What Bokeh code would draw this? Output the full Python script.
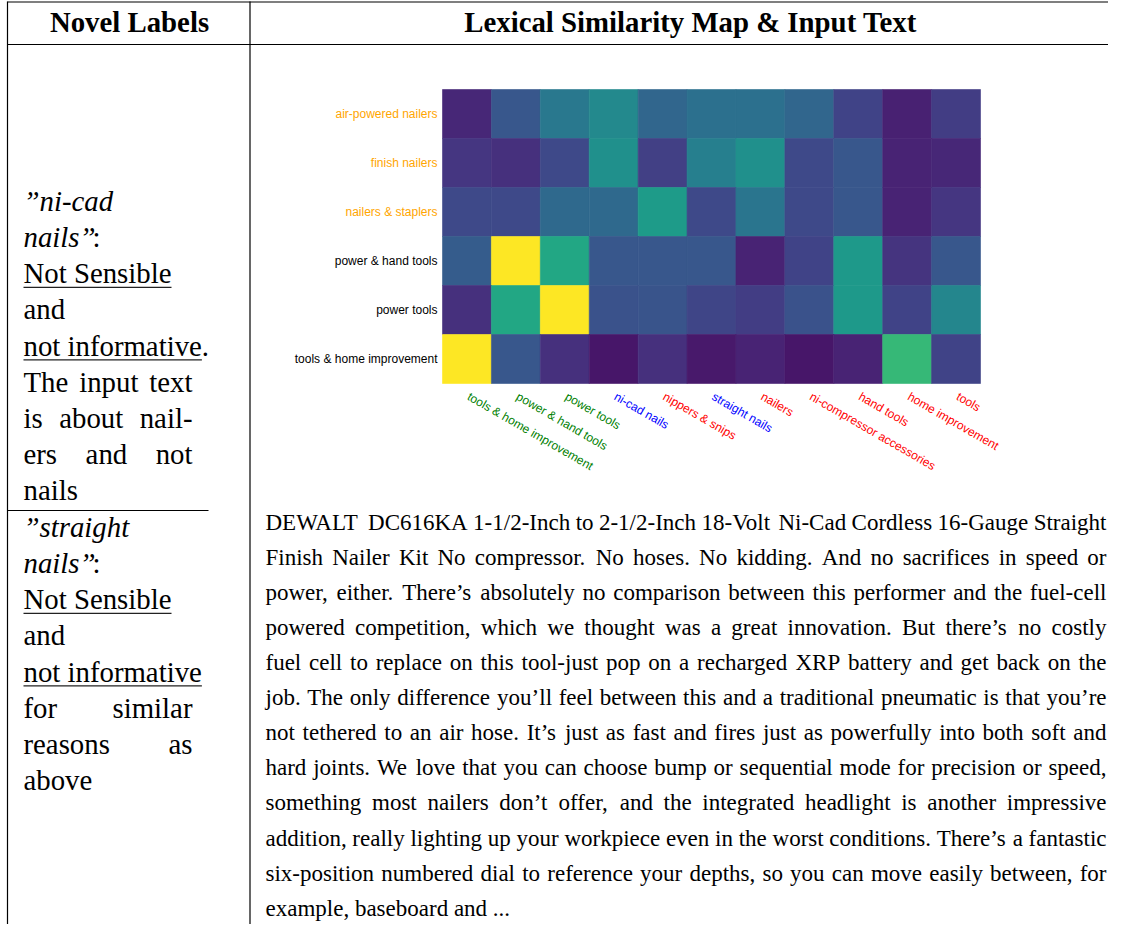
import math
from bokeh.plotting import figure
from bokeh.models import Range1d, ColumnDataSource, LabelSet, LinearColorMapper
from bokeh.palettes import Viridis256
from bokeh.core.properties import value, field
from bokeh.embed import file_html
from bokeh.resources import INLINE

# ---------------- data ----------------
row_labels = ["air-powered nailers", "finish nailers", "nailers & staplers",
              "power & hand tools", "power tools", "tools & home improvement"]
row_label_colors = ["#FFA500", "#FFA500", "#FFA500", "black", "black", "black"]

col_labels = ["tools & home improvement", "power & hand tools", "power tools",
              "ni-cad nails", "nippers & snips", "straight nails", "nailers",
              "ni-compressor accessories", "hand tools", "home improvement", "tools"]
col_label_colors = ["green", "green", "green", "blue", "red", "blue", "red",
                    "red", "red", "red", "red"]

sim_air_powered_nailers = [0.11, 0.27, 0.40, 0.47, 0.33, 0.37, 0.37, 0.33, 0.20, 0.09, 0.18]
sim_finish_nailers      = [0.16, 0.14, 0.22, 0.50, 0.19, 0.43, 0.50, 0.22, 0.27, 0.10, 0.11]
sim_nailers_staplers    = [0.22, 0.22, 0.34, 0.34, 0.55, 0.22, 0.39, 0.22, 0.27, 0.10, 0.16]
sim_power_hand_tools    = [0.29, 1.00, 0.60, 0.27, 0.27, 0.27, 0.10, 0.20, 0.54, 0.15, 0.27]
sim_power_tools         = [0.14, 0.60, 1.00, 0.25, 0.26, 0.21, 0.18, 0.25, 0.54, 0.20, 0.46]
sim_tools_home_impr     = [1.00, 0.27, 0.14, 0.06, 0.14, 0.07, 0.10, 0.06, 0.10, 0.67, 0.20]

header_left = "Novel Labels"
header_right = "Lexical Similarity Map & Input Text"

input_text_lines = [
    "DEWALT DC616KA 1-1/2-Inch to 2-1/2-Inch 18-Volt Ni-Cad Cordless 16-Gauge Straight",
    "Finish Nailer Kit No compressor. No hoses. No kidding. And no sacrifices in speed or",
    "power, either. There’s absolutely no comparison between this performer and the fuel-cell",
    "powered competition, which we thought was a great innovation.  But there’s no costly",
    "fuel cell to replace on this tool-just pop on a recharged XRP battery and get back on the",
    "job. The only difference you’ll feel between this and a traditional pneumatic is that you’re",
    "not tethered to an air hose. It’s just as fast and fires just as powerfully into both soft and",
    "hard joints. We love that you can choose bump or sequential mode for precision or speed,",
    "something most nailers don’t offer, and the integrated headlight is another impressive",
    "addition, really lighting up your workpiece even in the worst conditions. There’s a fantastic",
    "six-position numbered dial to reference your depths, so you can move easily between, for",
    "example, baseboard and ...",
]

SERIF = "Liberation Serif"
SANS = "Liberation Sans"

# Times-compatible advance widths (1/1000 em) used for justified lines
W_ROMAN = {' ': 250, '!': 333, '(': 333, ')': 333, ',': 250, '-': 333, '.': 250,
           '/': 278, ':': 278, ';': 278, '?': 444, '&': 778, '’': 333, '”': 444}
for ch in "0123456789":
    W_ROMAN[ch] = 500
W_ROMAN.update(dict(zip("ABCDEFGHIJKLMNOPQRSTUVWXYZ",
    [722, 667, 667, 722, 611, 556, 722, 722, 333, 389, 722, 611, 889, 722, 722,
     556, 722, 667, 556, 611, 722, 722, 944, 722, 722, 611])))
W_ROMAN.update(dict(zip("abcdefghijklmnopqrstuvwxyz",
    [444, 500, 444, 500, 444, 333, 500, 500, 278, 278, 500, 278, 778, 500, 500,
     500, 500, 333, 389, 278, 500, 500, 722, 500, 500, 444])))
W_ITALIC = {'n': 500, 'a': 500, 'i': 278, 'l': 278, 's': 389, '”': 556}


def text_width(s, fs, table=W_ROMAN):
    return sum(table.get(c, 500) for c in s) * fs / 1000.0


def justify(line, x0, x1, fs):
    words = line.split()
    if len(words) == 1:
        return [x0], words
    widths = [text_width(w, fs) for w in words]
    gap = (x1 - x0 - sum(widths)) / (len(words) - 1)
    xs, x = [], x0
    for w in widths:
        xs.append(x)
        x += w + gap
    return xs, words


# ---------------- figure (pixel-like coordinates, y downwards) ----------------
W, H = 1108, 924
p = figure(width=W, height=H, x_range=Range1d(0, W), y_range=Range1d(H, 0),
           output_backend="svg", toolbar_location=None,
           x_axis_location=None, y_axis_location=None, min_border=0)
p.outline_line_color = None
p.background_fill_color = "white"
p.border_fill_color = "white"
p.grid.visible = False


def put_text(xs, ys_base, texts, fs, style="normal", align="left", color="black"):
    # convert baseline positions to em-box middle
    ys = [y - 0.34 * fs for y in ys_base]
    p.text(x=xs, y=ys, text=texts, text_font=value(SERIF), text_font_size=f"{fs}px",
           text_font_style=style, text_align=align, text_baseline="middle",
           text_color=color)


LINE_COLOR = "black"
FS_LEFT = 28.8
FS_PARA = 23

# table rules
p.segment(x0=[7, 7, 7], y0=[1.5, 44, 510], x1=[W, W, 208], y1=[1.5, 44, 510],
          line_color=LINE_COLOR, line_width=1.2)
p.segment(x0=[7, 249.5], y0=[1, 1], x1=[7, 249.5], y1=[H, H],
          line_color=LINE_COLOR, line_width=1.2)

# headers
put_text([129], [31], [header_left], FS_LEFT, style="bold", align="center")
put_text([690], [31], [header_right], FS_LEFT, style="bold", align="center")

# ---------------- left column ----------------
LX0, LX1 = 23, 192
SP = 36.2


def left_block(top, name):
    ys = [top + k * SP for k in range(8)]
    put_text([LX0], [ys[0]], ["”" + name], FS_LEFT, style="italic")
    put_text([LX0], [ys[1]], ["nails”"], FS_LEFT, style="italic")
    put_text([LX0 + text_width("nails”", FS_LEFT, W_ITALIC) - 3], [ys[1]], [":"], FS_LEFT)
    put_text([LX0], [ys[2]], ["Not Sensible"], FS_LEFT)
    put_text([LX0], [ys[3]], ["and"], FS_LEFT)
    u1 = text_width("Not Sensible", FS_LEFT)
    u2 = text_width("not informative", FS_LEFT)
    p.segment(x0=[LX0, LX0], y0=[ys[2] + 4.5, ys[4] + 4.5],
              x1=[LX0 + u1, LX0 + u2], y1=[ys[2] + 4.5, ys[4] + 4.5],
              line_color="#222222", line_width=1.3)
    return ys


ys1 = left_block(210, "ni-cad")
put_text([LX0], [ys1[4]], ["not informative."], FS_LEFT)
for k, ln in zip([5, 6, 7], ["The input text", "is about nail-", "ers and not"]):
    xs, ws = justify(ln, LX0, LX1, FS_LEFT)
    put_text(xs, [ys1[k]] * len(ws), ws, FS_LEFT)
put_text([LX0], [ys1[7] + SP], ["nails"], FS_LEFT)

ys2 = left_block(536, "straight")
put_text([LX0], [ys2[4]], ["not informative"], FS_LEFT)
for k, ln in zip([5, 6], ["for similar", "reasons as"]):
    xs, ws = justify(ln, LX0, LX1, FS_LEFT)
    put_text(xs, [ys2[k]] * len(ws), ws, FS_LEFT)
put_text([LX0], [ys2[7]], ["above"], FS_LEFT)

# ---------------- heatmap (own data ranges) ----------------
ncol, nrow = len(col_labels), len(row_labels)
HX0, HX1, HY0, HY1 = 442, 980, 89, 383
cw = (HX1 - HX0) / ncol
ch = (HY1 - HY0) / nrow
p.extra_x_ranges = {"hm": Range1d(-HX0 / cw, (W - HX0) / cw)}
p.extra_y_ranges = {"hm": Range1d((H - HY0) / ch, -HY0 / ch)}

rows_values = [sim_air_powered_nailers, sim_finish_nailers, sim_nailers_staplers,
               sim_power_hand_tools, sim_power_tools, sim_tools_home_impr]
xs, ys, vs = [], [], []
for i, vals in enumerate(rows_values):
    for j, v in enumerate(vals):
        xs.append(j + 0.5)
        ys.append(i + 0.5)
        vs.append(v)
src = ColumnDataSource(dict(x=xs, y=ys, v=vs))
mapper = LinearColorMapper(palette=Viridis256, low=0.0, high=1.0)
p.rect(x="x", y="y", width=1, height=1, source=src,
       fill_color={"field": "v", "transform": mapper},
       line_color={"field": "v", "transform": mapper}, line_width=0.6,
       x_range_name="hm", y_range_name="hm")

ysrc = ColumnDataSource(dict(x=[0] * nrow, y=[i + 0.5 for i in range(nrow)],
                             text=row_labels, lc=row_label_colors))
p.add_layout(LabelSet(x="x", y="y", text="text", source=ysrc, x_offset=-5,
                      x_range_name="hm", y_range_name="hm",
                      text_align="right", text_baseline="middle",
                      text_font=value(SANS), text_font_size="12px",
                      text_color=field("lc")))
xsrc = ColumnDataSource(dict(x=[j + 0.5 for j in range(ncol)], y=[nrow] * ncol,
                             text=col_labels, lc=col_label_colors))
p.add_layout(LabelSet(x="x", y="y", text="text", source=xsrc, x_offset=5, y_offset=-6,
                      x_range_name="hm", y_range_name="hm",
                      angle=-math.pi / 6, text_align="left", text_baseline="top",
                      text_font=value(SANS), text_font_size="12px",
                      text_color=field("lc")))

# ---------------- input text (justified) ----------------
PX0, PX1 = 265, 1106
PSP = 35.1
for k, ln in enumerate(input_text_lines):
    yb = 529.5 + k * PSP
    if k == len(input_text_lines) - 1:
        put_text([PX0], [yb], [ln], FS_PARA)
    else:
        xs_, ws_ = justify(ln, PX0, PX1, FS_PARA)
        put_text(xs_, [yb] * len(ws_), ws_, FS_PARA)

open("out.html", "w").write(file_html(p, INLINE))
